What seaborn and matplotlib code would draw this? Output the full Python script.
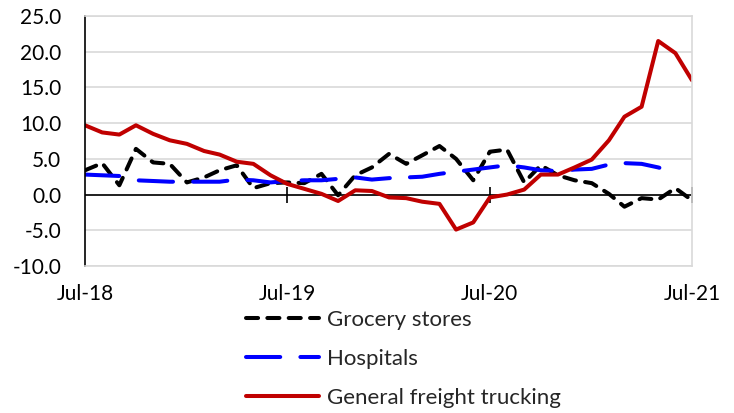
import matplotlib
matplotlib.use("Agg")
import matplotlib.pyplot as plt
import matplotlib.dates as mdates
import numpy as np
import pandas as pd
import seaborn as sns

START = "2018-07-01"
N_MONTHS = 37

grocery = [3.4, 4.4, 1.3, 6.4, 4.5, 4.3, 1.7, 2.4, 3.4, 4.1, 0.9, 1.6, 1.7,
           1.6, 2.9, -0.1, 2.7, 3.8, 5.7, 4.3, 5.5, 6.8, 5.0, 2.0, 6.0,
           6.3, 1.7, 4.1, 2.7, 2.0, 1.6, 0.1, -1.7, -0.5, -0.7, 0.9, -0.8]
hospitals = [2.8, 2.7, 2.6, 2.0, 1.9, 1.8, 1.8, 1.8, 1.8, 2.1, 2.0, 1.7, 1.9,
             2.0, 2.0, 2.2, 2.4, 2.1, 2.3, 2.4, 2.5, 2.9, 3.2, 3.5, 3.8,
             4.1, 3.8, 3.4, 3.3, 3.5, 3.6, 4.2, 4.4, 4.3, 3.8, 3.1, np.nan]
trucking = [9.7, 8.7, 8.4, 9.7, 8.5, 7.6, 7.1, 6.1, 5.6, 4.6, 4.3, 2.7, 1.5,
            0.8, 0.1, -0.9, 0.6, 0.5, -0.4, -0.5, -1.0, -1.3, -4.9, -3.9, -0.4,
            0.0, 0.7, 2.8, 2.8, 3.8, 4.9, 7.6, 10.9, 12.3, 21.5, 19.8, 16.0]

series_names = ["Grocery stores", "Hospitals", "General freight trucking"]
y_ticks = [-10, -5, 0, 5, 10, 15, 20, 25]

dates = pd.date_range(START, periods=N_MONTHS, freq="MS")
df = pd.DataFrame({"date": dates,
                   "Grocery stores": grocery,
                   "Hospitals": hospitals,
                   "General freight trucking": trucking})

sns.set_theme(style="white")
plt.rcParams["font.family"] = ["Lato", "DejaVu Sans"]

fig = plt.figure(figsize=(7.34, 4.13), dpi=100)
ax = fig.add_axes([85 / 734, 1 - 266 / 413, (692 - 85) / 734, 250 / 413])

styles = {
    "Grocery stores": dict(color="black", linestyle=(0, (3.0, 2.3))),
    "Hospitals": dict(color="#0000ff", linestyle=(0, (8.5, 5.0))),
    "General freight trucking": dict(color="#c00000", linestyle="-"),
}

for name in series_names:
    sns.lineplot(data=df, x="date", y=name, ax=ax, label=name,
                 lw=2.9, dash_capstyle="round", **styles[name])

ax.set_xlim(dates[0], dates[-1])
ax.set_ylim(y_ticks[0], y_ticks[-1])
ax.set_yticks(y_ticks)
ax.yaxis.set_major_formatter(plt.FormatStrFormatter("%.1f"))
ax.set_xticks(dates[::12])
ax.xaxis.set_major_formatter(mdates.DateFormatter("%b-%y"))
ax.set_xlabel("")
ax.set_ylabel("")

ax.grid(axis="y", color="#d9d9d9", lw=1.2)
ax.grid(axis="x", visible=False)
ax.set_axisbelow(True)
for side in ["top", "right", "bottom"]:
    ax.spines[side].set_color("#d9d9d9")
    ax.spines[side].set_linewidth(1.2)
ax.spines["left"].set_color("black")
ax.spines["left"].set_linewidth(1.2)

# zero line with small crossing ticks at each July
ax.axhline(0, color="black", lw=1.2, zorder=1.5)
ax.plot(dates[12::12], [0] * len(dates[12::12]), ls="none", marker="|",
        ms=11, mew=1.2, color="black", zorder=1.5)

ax.tick_params(axis="both", length=0, labelsize=15, colors="black")
ax.tick_params(axis="y", pad=17)
ax.tick_params(axis="x", pad=13)

ax.get_legend().remove()
handles, labels = ax.get_legend_handles_labels()
fig.legend(handles, labels, loc="upper left",
           bbox_to_anchor=(246 / 734, 1 - 310 / 413),
           frameon=False, fontsize=16, handlelength=3.3, handletextpad=0.33,
           labelspacing=0.85, borderpad=0, borderaxespad=0)

fig.savefig("out.png", dpi=100)
